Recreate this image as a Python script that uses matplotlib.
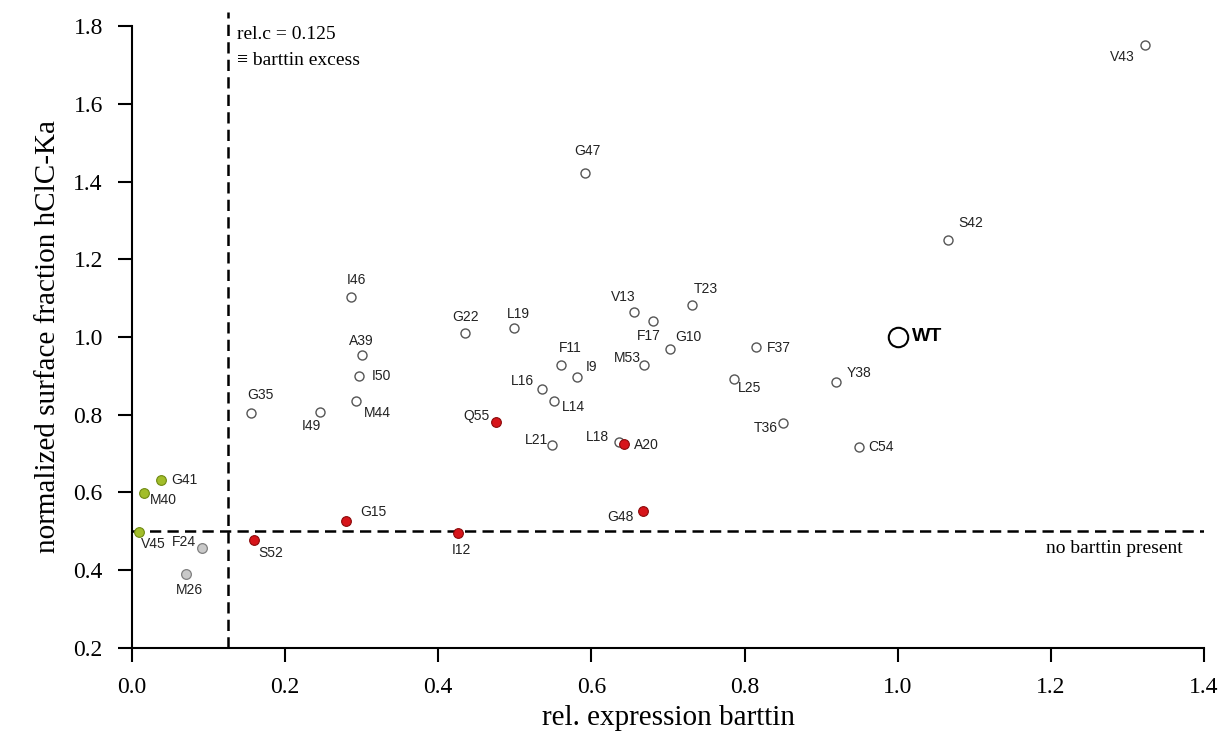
import matplotlib
matplotlib.use("Agg")
import matplotlib.pyplot as plt

# data
open_names = ['I46', 'G22', 'L19', 'A39', 'I50', 'M44', 'G35', 'I49', 'L16', 'L14',
              'L21', 'L18', 'F11', 'I9', 'M53', 'V13', 'F17', 'T23', 'G10', 'F37',
              'L25', 'Y38', 'T36', 'C54', 'G47', 'S42', 'V43']
open_x = [0.286, 0.435, 0.499, 0.300, 0.297, 0.293, 0.155, 0.246, 0.536, 0.551,
          0.548, 0.636, 0.560, 0.581, 0.669, 0.655, 0.681, 0.731, 0.702, 0.815,
          0.786, 0.920, 0.850, 0.950, 0.592, 1.066, 1.323]
open_y = [1.104, 1.009, 1.024, 0.953, 0.899, 0.836, 0.805, 0.806, 0.867, 0.835,
          0.722, 0.731, 0.928, 0.897, 0.928, 1.065, 1.041, 1.082, 0.969, 0.975,
          0.892, 0.884, 0.778, 0.718, 1.421, 1.250, 1.750]

red_names = ['Q55', 'G15', 'S52', 'I12', 'A20', 'G48']
red_x = [0.475, 0.280, 0.159, 0.426, 0.642, 0.667]
red_y = [0.781, 0.527, 0.479, 0.496, 0.725, 0.552]

green_names = ['G41', 'M40', 'V45']
green_x = [0.038, 0.016, 0.0095]
green_y = [0.631, 0.598, 0.499]

gray_names = ['F24', 'M26']
gray_x = [0.092, 0.071]
gray_y = [0.457, 0.390]

wt_x = 1.0
wt_y = 1.0

rel_c = 0.125
no_barttin = 0.5

x_ticks = [0.0, 0.2, 0.4, 0.6, 0.8, 1.0, 1.2, 1.4]
y_ticks = [0.2, 0.4, 0.6, 0.8, 1.0, 1.2, 1.4, 1.6, 1.8]

# label placement (pixel offset, alignment)
lab_pos = {
    'I46': (5, 17, 'center'), 'G22': (0, 16, 'center'), 'L19': (4, 14, 'center'),
    'A39': (0, 14, 'center'), 'I50': (12, 0, 'left'), 'M44': (8, -12, 'left'),
    'G35': (10, 18, 'center'), 'I49': (-9, -14, 'center'), 'L16': (-8, 8, 'right'),
    'L14': (8, -6, 'left'), 'L21': (-3, 5, 'right'), 'L18': (-10, 5, 'right'),
    'F11': (9, 17, 'center'), 'I9': (9, 10, 'left'), 'M53': (-3, 7, 'right'),
    'V13': (-10, 15, 'center'), 'F17': (-5, -15, 'center'), 'T23': (14, 16, 'center'),
    'G10': (6, 12, 'left'), 'F37': (11, -1, 'left'), 'L25': (4, -9, 'left'),
    'Y38': (10, 9, 'left'), 'T36': (-5, -5, 'right'), 'C54': (9, 0, 'left'),
    'G47': (2, 22, 'center'), 'S42': (10, 17, 'left'), 'V43': (-10, -12, 'right'),
    'Q55': (-6, 6, 'right'), 'G15': (14, 9, 'left'), 'S52': (5, -13, 'left'),
    'I12': (3, -17, 'center'), 'A20': (10, -1, 'left'), 'G48': (-9, -6, 'right'),
    'G41': (10, 0, 'left'), 'M40': (6, -7, 'left'), 'V45': (2, -12, 'left'),
    'F24': (-6, 6, 'right'), 'M26': (3, -16, 'center'),
}

serif = ['Liberation Serif', 'DejaVu Serif']
sans = ['Liberation Sans', 'DejaVu Sans']

fig = plt.figure(figsize=(12.2, 7.33), dpi=100)
ax = fig.add_axes([0.1082, 0.1160, 0.8787, 0.8485])

ax.plot(open_x, open_y, 'o', ms=6.5, mfc='white', mec='#555555', mew=1.0, zorder=3)
ax.plot(red_x, red_y, 'o', ms=7, mfc='#d7141a', mec='#8a0a0a', mew=0.8, zorder=3)
ax.plot(green_x, green_y, 'o', ms=7, mfc='#a2bd2a', mec='#6f8a12', mew=0.8, zorder=3)
ax.plot(gray_x, gray_y, 'o', ms=7, mfc='#c9c9c9', mec='#808080', mew=0.9, zorder=3)
ax.plot([wt_x], [wt_y], 'o', ms=14, mfc='white', mec='black', mew=1.5, zorder=3)

names = open_names + red_names + green_names + gray_names
xs = open_x + red_x + green_x + gray_x
ys = open_y + red_y + green_y + gray_y
for n, x, y in zip(names, xs, ys):
    dx, dy, ha = lab_pos[n]
    ax.annotate(n, (x, y), xytext=(dx, dy), textcoords='offset pixels',
                ha=ha, va='center', fontsize=10, family=sans, color='#222222')
ax.annotate('WT', (wt_x, wt_y), xytext=(14, 0), textcoords='offset pixels',
            ha='left', va='center', fontsize=14, fontweight='bold', family=sans)

# reference lines
ax.plot([rel_c, rel_c], [0.2, 1.835], color='black', lw=1.8, dashes=(4.5, 2.5),
        clip_on=False, zorder=2)
ax.plot([0, 1.4], [no_barttin, no_barttin], color='black', lw=1.8, dashes=(4.5, 2.5),
        zorder=2)

ax.text(0.137, 1.777, 'rel.c = 0.125', fontsize=14, family=serif, va='center')
ax.text(0.137, 1.7125, '\u2261 barttin excess', fontsize=14, family=serif, va='center')
ax.text(1.372, 0.457, 'no barttin present', fontsize=14, family=serif,
        va='center', ha='right')

ax.set_xlim(0, 1.4)
ax.set_ylim(0.2, 1.8)
ax.set_xticks(x_ticks)
ax.set_yticks(y_ticks)
ax.set_xticklabels(['%.1f' % v for v in x_ticks])
ax.set_yticklabels(['%.1f' % v for v in y_ticks])
for lab in ax.get_xticklabels() + ax.get_yticklabels():
    lab.set_family(serif)
    lab.set_fontsize(17)
ax.tick_params(direction='out', length=10, width=1.5, pad=11, color='black')

ax.spines['top'].set_visible(False)
ax.spines['right'].set_visible(False)
ax.spines['left'].set_linewidth(1.5)
ax.spines['bottom'].set_linewidth(1.5)

ax.set_xlabel('rel. expression barttin', fontsize=21, family=serif, labelpad=5)
ax.set_ylabel('normalized surface fraction hClC-Ka', fontsize=21, family=serif, labelpad=9)

fig.savefig('out.png', dpi=100)
